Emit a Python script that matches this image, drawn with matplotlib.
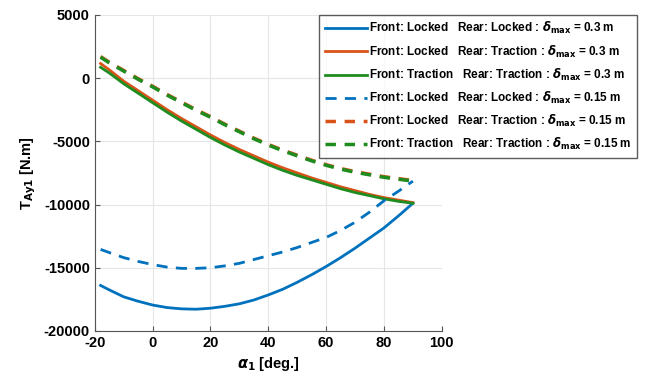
import matplotlib.pyplot as plt
import numpy as np

# angle samples (deg) and torque readings (N.m)
alpha = [-18, -15, -10, -5, 0, 5, 10, 15, 20, 25, 30, 35, 40, 45, 50, 55, 60, 65, 70, 75, 80, 85, 90]
ll_03 = [-16400, -16750, -17300, -17650, -17950, -18150, -18250, -18280, -18200, -18050, -17850, -17550,
         -17150, -16700, -16150, -15550, -14900, -14200, -13450, -12650, -11850, -10900, -9900]
lt_03 = [1150, 650, -250, -1000, -1750, -2500, -3200, -3850, -4500, -5100, -5650, -6150,
         -6650, -7100, -7500, -7900, -8250, -8600, -8900, -9200, -9450, -9650, -9850]
tt_03 = [850, 400, -450, -1200, -1950, -2700, -3400, -4050, -4700, -5300, -5850, -6350,
         -6850, -7300, -7700, -8050, -8400, -8750, -9050, -9300, -9550, -9750, -9900]
ll_015 = [-13550, -13800, -14200, -14500, -14750, -14950, -15050, -15050, -15000, -14850, -14650, -14350,
          -14050, -13750, -13400, -13000, -12600, -12050, -11400, -10600, -9700, -8950, -8150]
lt_015 = [1700, 1250, 600, -50, -650, -1300, -1900, -2500, -3050, -3650, -4200, -4750,
          -5250, -5700, -6100, -6500, -6850, -7150, -7400, -7600, -7800, -7950, -8100]
tt_015 = [1650, 1200, 550, -100, -700, -1350, -1950, -2550, -3100, -3700, -4250, -4800,
          -5300, -5750, -6150, -6550, -6900, -7200, -7450, -7650, -7850, -8000, -8150]

plt.rcParams['font.family'] = ['Liberation Sans', 'DejaVu Sans']
plt.rcParams['font.weight'] = 'bold'
plt.rcParams['axes.unicode_minus'] = False

blue = '#0072BD'
orange = '#D95319'
green = '#1E8C1E'

fig = plt.figure(figsize=(6.45, 3.8), dpi=100)
ax = fig.add_axes([0.147, 0.129, 0.538, 0.832])

lab = r'Front: %s   Rear: %s : $\delta_{\mathrm{max}}$ = %s m'
ax.plot(alpha, ll_03, color=blue, lw=2, label=lab % ('Locked', 'Locked', '0.3'))
ax.plot(alpha, lt_03, color=orange, lw=2, label=lab % ('Locked', 'Traction', '0.3'))
ax.plot(alpha, tt_03, color=green, lw=2, label=lab % ('Traction', 'Traction', '0.3'))
ax.plot(alpha, ll_015, color=blue, lw=2, ls=(0, (4, 3)), label=lab % ('Locked', 'Locked', '0.15'))
ax.plot(alpha, lt_015, color=orange, lw=2.5, ls=(0, (3, 2.5)), label=lab % ('Locked', 'Traction', '0.15'))
ax.plot(alpha, tt_015, color=green, lw=2.5, ls=(0, (3, 2.5)), label=lab % ('Traction', 'Traction', '0.15'))

ax.set_xlim(-20, 100)
ax.set_ylim(-20000, 5000)
ax.set_xticks(np.arange(-20, 101, 20))
ax.set_yticks(np.arange(-20000, 5001, 5000))
ax.grid(True, color='#e6e6e6', lw=0.8)
for s in ['top', 'right']:
    ax.spines[s].set_visible(False)
for s in ['left', 'bottom']:
    ax.spines[s].set_color('#555555')
ax.tick_params(direction='in', labelsize=10.5, color='#555555')
for t in ax.get_xticklabels() + ax.get_yticklabels():
    t.set_fontweight('bold')
ax.set_xlabel(r'$\alpha_1$ [deg.]', fontsize=10.5, fontweight='bold')
ax.set_ylabel(r'T$_{\mathrm{Ay1}}$ [N.m]', fontsize=10.5, fontweight='bold')

leg = ax.legend(loc='upper right', bbox_to_anchor=(0.997, 0.976), bbox_transform=fig.transFigure,
                fontsize=8.5, frameon=True, fancybox=False, edgecolor='#333333',
                handlelength=3.6, handletextpad=0.2, labelspacing=0.6, borderpad=0.45)
leg.get_frame().set_linewidth(1.0)

fig.savefig('out.png', dpi=100)
